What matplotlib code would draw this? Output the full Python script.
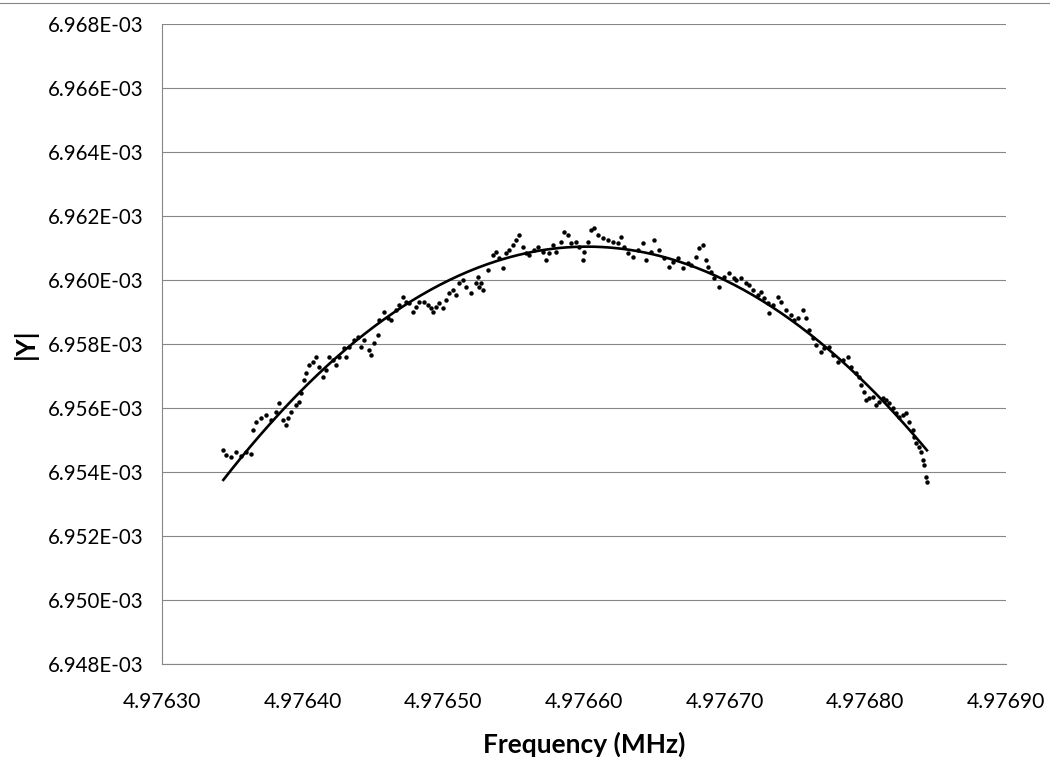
import numpy as np
import matplotlib.pyplot as plt
from matplotlib.lines import Line2D
from matplotlib.ticker import FuncFormatter, MultipleLocator

plt.rcParams["font.family"] = ["Lato", "DejaVu Sans"]

# sweep offsets from 4.976300 MHz, in Hz
df_hz = [
    43.6, 45.5, 49.1, 52.6, 56.2, 59.7, 63.3, 64.5, 66.8, 70.4,
    73.9, 77.5, 81.0, 83.2, 85.8, 88.2, 89.4, 91.7, 95.3, 97.4,
    98.8, 100.9, 102.4, 104.5, 107.1, 109.5, 111.6, 114.2, 116.6, 118.7,
    121.3, 123.7, 125.8, 129.4, 130.8, 132.9, 136.5, 139.1, 141.5, 143.6,
    147.2, 148.6, 150.7, 153.3, 154.3, 157.8, 160.4, 162.8, 166.4, 168.5,
    171.1, 173.5, 175.6, 178.2, 180.6, 182.7, 186.3, 188.9, 191.2, 192.7,
    194.8, 196.9, 199.6, 201.9, 204.0, 206.7, 209.0, 211.1, 213.8, 216.1,
    219.7, 223.2, 224.4, 225.4, 226.8, 228.0, 231.5, 235.1, 237.4, 239.6,
    242.2, 244.6, 246.7, 249.3, 251.7, 253.8, 256.4, 258.8, 260.9, 264.5,
    267.1, 270.6, 273.0, 275.1, 277.7, 280.1, 283.6, 285.8, 288.4, 290.8,
    294.3, 296.4, 299.1, 300.0, 302.6, 305.0, 307.1, 309.7, 313.3, 316.8,
    320.4, 323.9, 326.3, 328.4, 331.1, 334.6, 338.2, 341.7, 344.1, 347.6,
    349.8, 353.3, 356.9, 360.4, 363.1, 366.6, 370.2, 373.7, 376.1, 379.6,
    381.8, 384.4, 386.7, 387.9, 390.3, 392.4, 396.0, 399.5, 403.1, 406.6,
    408.1, 411.6, 415.2, 417.3, 419.9, 423.5, 425.8, 428.0, 430.6, 431.5,
    434.1, 437.7, 440.0, 443.6, 447.1, 449.3, 451.9, 455.5, 457.8, 460.0,
    462.6, 464.9, 468.5, 470.6, 474.2, 476.8, 480.4, 483.9, 487.5, 489.8,
    493.4, 495.5, 497.0, 499.1, 500.5, 502.6, 505.2, 507.6, 509.7, 512.3,
    514.7, 516.8, 519.5, 521.8, 523.9, 526.6, 528.9, 531.0, 533.7, 534.6,
    536.0, 538.2, 539.6, 540.8, 541.7, 543.1, 543.8,
]

# |Y| in mS
y_ms = [
    6.95469, 6.95453, 6.95447, 6.95463, 6.95450, 6.95463, 6.95456, 6.95531, 6.95557, 6.95569,
    6.95578, 6.95563, 6.95588, 6.95616, 6.95563, 6.95547, 6.95569, 6.95588, 6.95609, 6.95620,
    6.95647, 6.95688, 6.95709, 6.95734, 6.95745, 6.95760, 6.95729, 6.95698, 6.95719, 6.95760,
    6.95750, 6.95734, 6.95760, 6.95788, 6.95760, 6.95792, 6.95813, 6.95823, 6.95792, 6.95813,
    6.95781, 6.95766, 6.95803, 6.95828, 6.95875, 6.95901, 6.95881, 6.95875, 6.95906, 6.95922,
    6.95948, 6.95932, 6.95928, 6.95901, 6.95917, 6.95932, 6.95932, 6.95922, 6.95913, 6.95901,
    6.95917, 6.95928, 6.95913, 6.95938, 6.95959, 6.95969, 6.95953, 6.95991, 6.96000, 6.95979,
    6.95959, 6.95991, 6.96010, 6.95979, 6.95991, 6.95969, 6.96031, 6.96078, 6.96088, 6.96069,
    6.96038, 6.96084, 6.96094, 6.96109, 6.96125, 6.96141, 6.96104, 6.96084, 6.96078, 6.96094,
    6.96104, 6.96088, 6.96063, 6.96084, 6.96109, 6.96088, 6.96120, 6.96151, 6.96141, 6.96116,
    6.96120, 6.96104, 6.96063, 6.96088, 6.96120, 6.96156, 6.96163, 6.96141, 6.96131, 6.96125,
    6.96120, 6.96116, 6.96135, 6.96104, 6.96084, 6.96073, 6.96094, 6.96116, 6.96063, 6.96088,
    6.96125, 6.96094, 6.96069, 6.96042, 6.96057, 6.96069, 6.96038, 6.96053, 6.96047, 6.96073,
    6.96100, 6.96109, 6.96063, 6.96042, 6.96026, 6.96006, 6.95979, 6.96010, 6.96022, 6.96006,
    6.96000, 6.96006, 6.95991, 6.95984, 6.95969, 6.95953, 6.95963, 6.95944, 6.95928, 6.95897,
    6.95922, 6.95948, 6.95932, 6.95906, 6.95891, 6.95875, 6.95881, 6.95906, 6.95881, 6.95844,
    6.95819, 6.95797, 6.95776, 6.95788, 6.95792, 6.95766, 6.95745, 6.95750, 6.95760, 6.95729,
    6.95709, 6.95698, 6.95672, 6.95651, 6.95625, 6.95631, 6.95635, 6.95609, 6.95620, 6.95631,
    6.95625, 6.95616, 6.95600, 6.95584, 6.95573, 6.95578, 6.95584, 6.95557, 6.95531, 6.95510,
    6.95491, 6.95479, 6.95463, 6.95438, 6.95422, 6.95385, 6.95370,
]

F0 = 4.9763  # MHz
freq = F0 + np.array(df_hz) * 1e-6
ymag = np.array(y_ms) * 1e-3

# second-order polynomial trendline (fit on the offset to keep it well conditioned)
coef = np.polyfit(np.array(df_hz), ymag, 2)
d_fit = np.linspace(min(df_hz), max(df_hz), 300)
y_fit = np.polyval(coef, d_fit)

GRID = "#868686"

fig = plt.figure(figsize=(10.5, 7.66), dpi=100)
ax = fig.add_axes([162 / 1050, 1 - 664 / 766, 844 / 1050, 640 / 766])

ax.plot(freq, ymag, "o", color="black", ms=3.2, mew=0, zorder=3)
ax.plot(F0 + d_fit * 1e-6, y_fit, "-", color="black", lw=1.9, zorder=4)

ax.set_xlim(4.97630, 4.97690)
ax.set_ylim(6.948e-3, 6.968e-3)
ax.xaxis.set_major_locator(MultipleLocator(0.0001))
ax.yaxis.set_major_locator(MultipleLocator(0.002e-3))
ax.xaxis.set_major_formatter(FuncFormatter(lambda v, _: f"{v:.5f}"))
ax.yaxis.set_major_formatter(FuncFormatter(lambda v, _: f"{v:.3E}"))

ax.grid(axis="y", color=GRID, lw=0.8)
ax.set_axisbelow(True)
for side in ("top", "right"):
    ax.spines[side].set_visible(False)
for side in ("left", "bottom"):
    ax.spines[side].set_color(GRID)
    ax.spines[side].set_linewidth(0.8)

ax.tick_params(axis="x", length=0, pad=20, labelsize=15.2)
ax.tick_params(axis="y", length=0, pad=13, labelsize=14.8)

ax.set_xlabel("Frequency (MHz)", fontsize=19, fontweight="bold")
ax.set_ylabel("|Y|", fontsize=19, fontweight="bold")
ax.xaxis.set_label_coords(0.5, -0.106)
ax.yaxis.set_label_coords(-0.147, 0.5)

# chart area border along the top edge
fig.add_artist(Line2D([0, 1], [1 - 2.5 / 766] * 2, transform=fig.transFigure,
                      color=GRID, lw=0.8))

fig.savefig("out.png", dpi=100)
